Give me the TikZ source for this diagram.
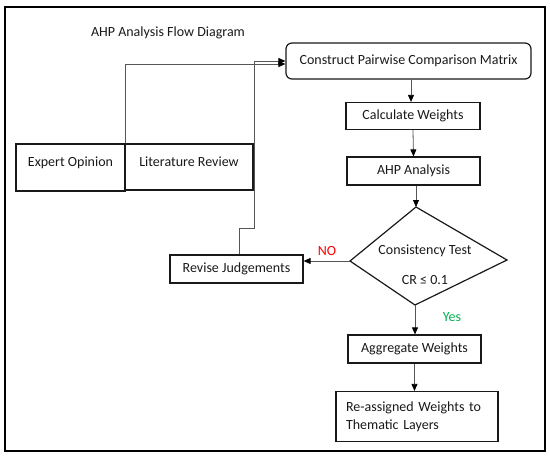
\documentclass[tikz,border=0pt]{standalone}
\usepackage{fontspec}
\setmainfont{Carlito}
\usetikzlibrary{arrows.meta,calc}
\definecolor{noRed}{HTML}{FF0000}
\definecolor{yesGreen}{HTML}{00B050}
\definecolor{lineGray}{HTML}{555555}
\begin{document}
\begin{tikzpicture}[x=1pt,y=-1pt,
  every node/.style={font=\fontsize{14}{18}\selectfont, text=black!90},
  box/.style={draw=black!90, line width=1.2pt, inner sep=0pt, align=center},
  conn/.style={draw=lineGray, line width=0.8pt},
  arr/.style={conn, -{Triangle[length=7pt,width=6pt,fill=black,color=black]}}
]
\useasboundingbox (0,0) rectangle (550,458);
\draw[line width=2.8pt, black] (5,7) rectangle (545,451);

\node (title) at (168,33) {AHP Analysis Flow Diagram};

\node[box, rounded corners=6pt, minimum width=245pt, minimum height=36pt] (construct) at (408.5,61) {Construct Pairwise Comparison Matrix};
\node[box, minimum width=134pt, minimum height=27pt] (calc) at (413,116) {Calculate Weights};
\node[box, minimum width=133pt, minimum height=28pt] (ahp) at (413.5,171) {AHP Analysis};

% diamond (drawn as polygon with named corners)
\coordinate (dt) at (416,207);
\coordinate (dl) at (350,261);
\coordinate (dr) at (507,260);
\coordinate (db) at (415,305);
\draw[line width=1.2pt, black!90] (dt) -- (dr) -- (db) -- (dl) -- cycle;
\node (ctest) at (425,251) {Consistency Test};
\node (cr) at (425,280) {CR ≤ 0.1};

\node[box, minimum width=133pt, minimum height=28pt] (revise) at (236.5,269) {Revise Judgements};
\node[box, minimum width=133pt, minimum height=28pt] (agg) at (414.5,349) {Aggregate Weights};
\node[box, text width=142pt, inner sep=10pt, align=left, minimum height=47pt] (reassign) at (417,416.5) {Re-assigned Weights to\\Thematic Layers};

\node[box, minimum width=109pt, minimum height=47pt] (expert) at (70.5,167.5) {};
\node (expertT) at (70.5,163) {Expert Opinion};
\node[box, minimum width=128pt, minimum height=46pt] (lit) at (189,167) {};
\node (litT) at (189,162) {Literature Review};

\node[text=noRed] (no) at (327,251) {NO};
\node[text=yesGreen] (yes) at (452,317) {Yes};

% connectors
\draw[arr] ($(calc.north |- construct.south)+(-2,0)$) -- ($(calc.north)+(-2,0)$);
\draw[arr] (calc.south) -- (ahp.north);
\draw[arr] ($(ahp.south)+(2.5,0)$) -- (dt);
\draw[arr] (dl) -- (revise.east |- dl);
\draw[arr] (db) -- (db |- agg.north);
\draw[arr] (agg.south) -- (agg.south |- reassign.north);

\draw[arr] (expert.north east) |- ($(construct.west)+(0,3)$);
\coordinate (j1) at (254,228);
\draw[arr] ($(revise.north)+(2.5,0)$) |- (j1) |- (construct.west);
\end{tikzpicture}
\end{document}
